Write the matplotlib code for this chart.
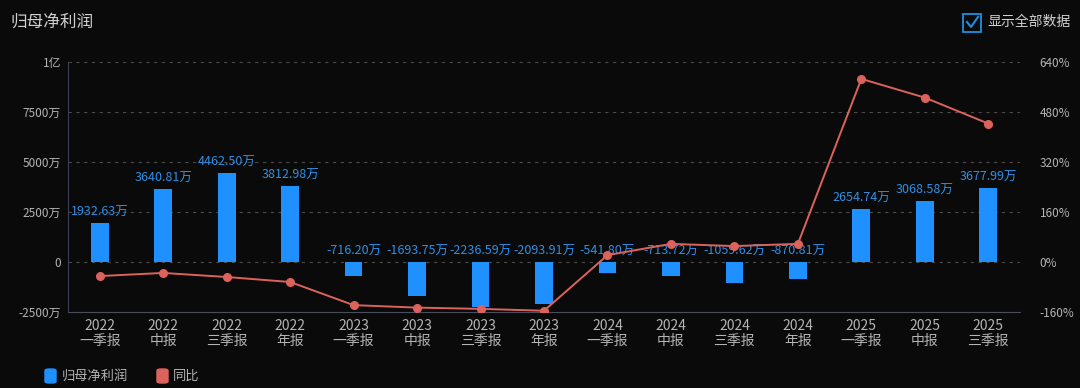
# 归母净利润 与 同比 组合图
import numpy as np
from matplotlib import pyplot as plt
from matplotlib.patches import Rectangle, FancyBboxPatch

plt.rcParams['font.family'] = ['Noto Sans CJK SC', 'DejaVu Sans']
plt.rcParams['axes.unicode_minus'] = False

# 数据
years = ['2022', '2022', '2022', '2022', '2023', '2023', '2023', '2023',
         '2024', '2024', '2024', '2024', '2025', '2025', '2025']
periods = ['一季报', '中报', '三季报', '年报', '一季报', '中报', '三季报', '年报',
           '一季报', '中报', '三季报', '年报', '一季报', '中报', '三季报']
profit = [1932.63, 3640.81, 4462.50, 3812.98, -716.20, -1693.75, -2236.59, -2093.91,
          -541.80, -713.72, -1059.62, -870.81, 2654.74, 3068.58, 3677.99]  # 万
yoy = [-45, -35, -48, -64, -138, -146, -150, -156,
       22, 58, 51, 58, 586, 526, 443]  # %

left_ticks = [-2500, 0, 2500, 5000, 7500, 10000]
left_labels = ['-2500万', '0', '2500万', '5000万', '7500万', '1亿']
right_ticks = [-160, 0, 160, 320, 480, 640]

BG = '#0a0a0a'
BAR = '#1e90ff'
LINE = '#dc625c'
TXT = '#b4b4b4'

W, H = 1080, 388
fig = plt.figure(figsize=(W / 100, H / 100), dpi=100, facecolor=BG)

def px(x0, y0, x1, y1):
    # 像素坐标 -> figure 坐标
    return [x0 / W, 1 - y1 / H, (x1 - x0) / W, (y1 - y0) / H]

ax = fig.add_axes(px(68, 62, 1020, 312))
ax.set_facecolor(BG)
x = np.arange(len(profit))

ax.bar(x, profit, width=0.28, color=BAR, zorder=2)
ax.set_xlim(-0.5, len(profit) - 0.5)
ax.set_ylim(-2500, 10000)
ax.set_yticks(left_ticks)
ax.set_yticklabels(left_labels)
ax.set_xticks(x)
ax.set_xticklabels([y + '\n' + p for y, p in zip(years, periods)], linespacing=1.05)

for i, v in enumerate(profit):
    ax.annotate('%.2f万' % v, (i, max(v, 0)), xytext=(0, 3), textcoords='offset points',
                ha='center', va='bottom', color='#2f8fe6', fontsize=9, zorder=4)

for t in left_ticks[1:]:
    ax.axhline(t, color='#4a4a4a', lw=0.8, ls=(0, (3, 4)), zorder=1)

for s in ['top', 'right']:
    ax.spines[s].set_visible(False)
ax.spines['left'].set_color('#3c3f55')
ax.spines['bottom'].set_color('#4a4d5c')
ax.tick_params(axis='y', colors=TXT, labelsize=8.5, length=0, pad=5)
ax.tick_params(axis='x', colors=TXT, labelsize=10, length=0, pad=5)

ax2 = ax.twinx()
ax2.plot(x, yoy, color=LINE, lw=1.4, marker='o', markersize=5.5, zorder=3)
ax2.set_ylim(-160, 640)
ax2.set_yticks(right_ticks)
ax2.set_yticklabels(['%d%%' % t for t in right_ticks])
ax2.tick_params(axis='y', colors=TXT, labelsize=8.5, length=0, pad=14)
for s in ax2.spines.values():
    s.set_visible(False)

# 标题
fig.text(10 / W, 1 - 22 / H, '归母净利润', color='#d0d0d0', fontsize=12, va='center')

# 复选框
fig.patches.append(Rectangle((963 / W, 1 - 32 / H), 18 / W, 18 / H, transform=fig.transFigure,
                             fill=False, edgecolor='#1e8fe0', lw=1.3))
fig.lines.append(plt.Line2D([967 / W, 971 / W, 978 / W], [1 - 22 / H, 1 - 27 / H, 1 - 17 / H],
                            transform=fig.transFigure, color='#1e8fe0', lw=1.5))
fig.text(987 / W, 1 - 22 / H, '显示全部数据', color='#d0d0d0', fontsize=10, va='center')

# 图例
fig.patches.append(FancyBboxPatch((45 / W, 1 - 383 / H), 11 / W, 14 / H, transform=fig.transFigure,
                                  boxstyle='round,pad=0,rounding_size=0.004', color=BAR))
fig.text(62 / W, 1 - 376 / H, '归母净利润', color=TXT, fontsize=9.5, va='center')
fig.patches.append(FancyBboxPatch((157 / W, 1 - 383 / H), 11 / W, 14 / H, transform=fig.transFigure,
                                  boxstyle='round,pad=0,rounding_size=0.004', color=LINE))
fig.text(173 / W, 1 - 376 / H, '同比', color=TXT, fontsize=9.5, va='center')

fig.savefig('out.png', dpi=100, facecolor=BG)
